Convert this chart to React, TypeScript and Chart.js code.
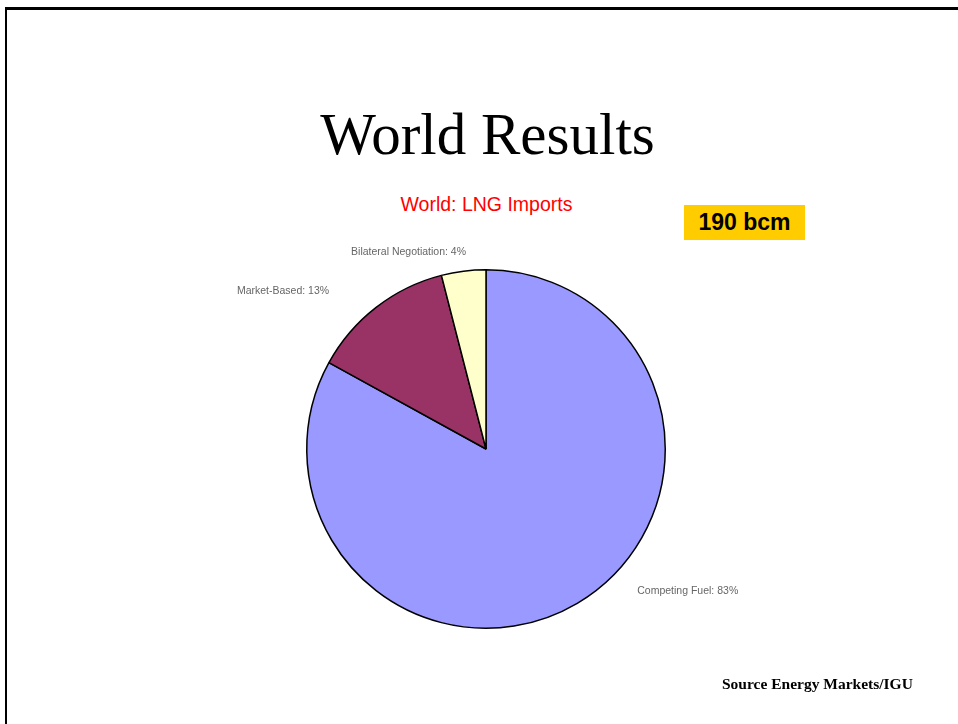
import React, { useEffect, useRef } from "react";
import { Chart, registerables } from "chart.js";

Chart.register(...registerables);

const categories = ["Competing Fuel", "Market-Based", "Bilateral Negotiation"];
const shares = [83, 13, 4];
const sliceColors = ["#9999FF", "#993366", "#FFFFCC"];
// label placement relative to the slice's outer edge at its mid angle
const labelOffsets: [number, number, CanvasTextAlign][] = [
  [60, -12, "left"],
  [-47, -16, "right"],
  [-55, -19, "center"],
];

const labelPlugin = {
  id: "sliceLabels",
  afterDraw(chart: any) {
    const ctx = chart.ctx;
    const meta = chart.getDatasetMeta(0);
    ctx.save();
    ctx.font = "10.5px 'Liberation Sans', Arial, sans-serif";
    ctx.fillStyle = "#666666";
    ctx.textBaseline = "middle";
    meta.data.forEach((arc: any, i: number) => {
      const p = arc.getProps(["x", "y", "startAngle", "endAngle", "outerRadius"], true);
      const mid = (p.startAngle + p.endAngle) / 2;
      const ex = p.x + Math.cos(mid) * p.outerRadius;
      const ey = p.y + Math.sin(mid) * p.outerRadius;
      const [dx, dy, align] = labelOffsets[i];
      ctx.textAlign = align;
      ctx.fillText(`${categories[i]}: ${shares[i]}%`, ex + dx, ey + dy);
    });
    ctx.restore();
  },
};

export default function App() {
  const ref = useRef<HTMLCanvasElement>(null);
  useEffect(() => {
    if (!ref.current) return;
    const chart = new Chart(ref.current, {
      type: "pie",
      data: {
        labels: categories,
        datasets: [
          {
            data: shares,
            backgroundColor: sliceColors,
            borderColor: "#000000",
            borderWidth: 1.5,
          },
        ],
      },
      options: {
        animation: false,
        responsive: true,
        maintainAspectRatio: false,
        layout: { padding: { left: 120, right: 120, top: 100, bottom: 100 } },
        plugins: {
          legend: { display: false },
          tooltip: { enabled: false },
          title: { display: false },
        },
      },
      plugins: [labelPlugin],
    });
    return () => chart.destroy();
  }, []);

  return (
    <div
      style={{
        position: "fixed",
        left: 0,
        top: 0,
        width: 958,
        height: 724,
        background: "#ffffff",
        overflow: "hidden",
      }}
    >
      <div
        style={{
          position: "absolute",
          left: 5,
          top: 7,
          width: 960,
          height: 730,
          borderTop: "3px solid #000",
          borderLeft: "2px solid #000",
          boxSizing: "border-box",
        }}
      />
      <div
        style={{
          position: "absolute",
          left: 0,
          width: 975,
          top: 100,
          textAlign: "center",
          fontFamily: "'Liberation Serif', 'Times New Roman', serif",
          fontSize: 59,
          lineHeight: "68px",
          color: "#000",
        }}
      >
        World Results
      </div>
      <div
        style={{
          position: "absolute",
          left: 0,
          width: 973,
          top: 192,
          textAlign: "center",
          fontFamily: "'Liberation Sans', Arial, sans-serif",
          fontSize: 19.5,
          lineHeight: "24px",
          color: "#FF0000",
        }}
      >
        World: LNG Imports
      </div>
      <div
        style={{
          position: "absolute",
          left: 684,
          top: 205,
          width: 121,
          height: 35,
          background: "#FFCC00",
          fontFamily: "'Liberation Sans', Arial, sans-serif",
          fontWeight: "bold",
          fontSize: 23,
          lineHeight: "35px",
          textAlign: "center",
          color: "#000",
        }}
      >
        190 bcm
      </div>
      <div
        style={{
          position: "absolute",
          left: 186,
          top: 169,
          width: 600,
          height: 560,
        }}
      >
        <canvas ref={ref} />
      </div>
      <div
        style={{
          position: "absolute",
          left: 722,
          top: 675,
          fontFamily: "'Liberation Serif', 'Times New Roman', serif",
          fontWeight: "bold",
          fontSize: 15.5,
          lineHeight: "18px",
          color: "#000",
          whiteSpace: "nowrap",
        }}
      >
        Source Energy Markets/IGU
      </div>
    </div>
  );
}
